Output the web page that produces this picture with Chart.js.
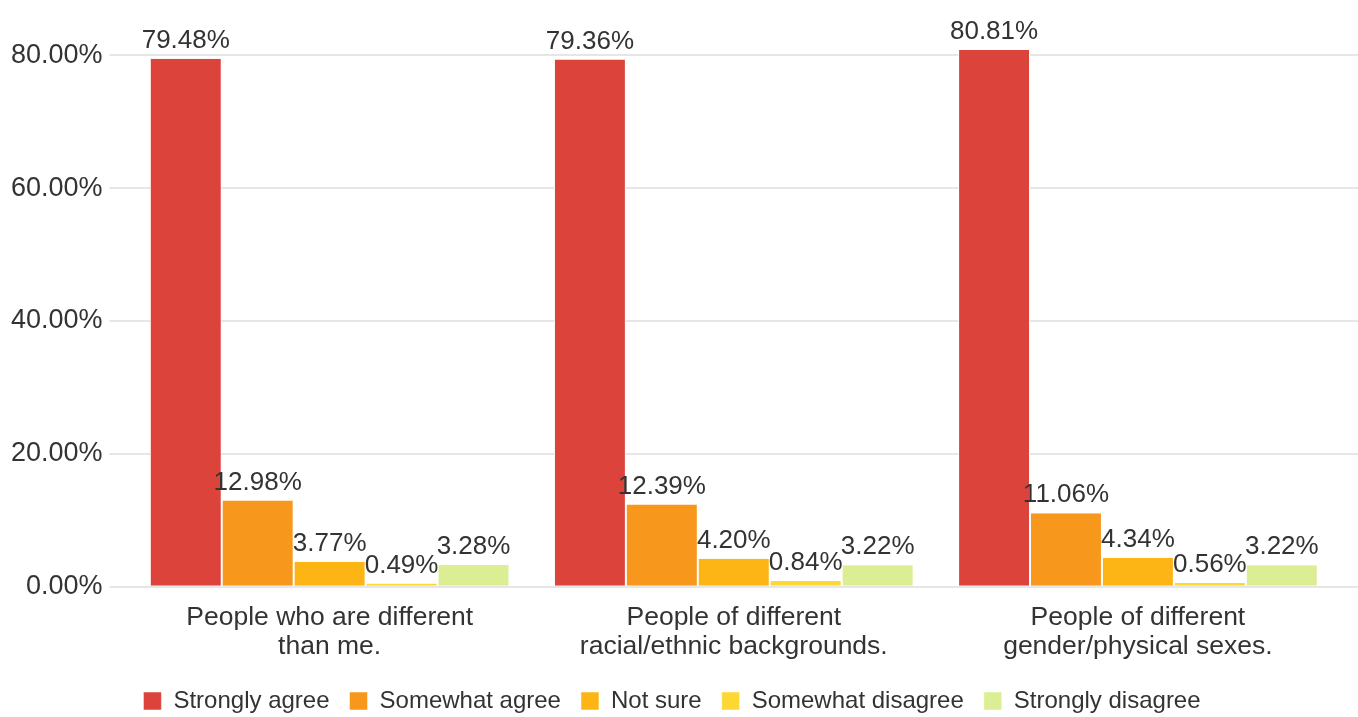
<!DOCTYPE html>
<html>
<head>
<meta charset="utf-8">
<script src="https://cdn.jsdelivr.net/npm/chart.js@4/dist/chart.umd.min.js"></script>
<style>
  html, body { margin: 0; padding: 0; background: #fff; }
  #wrap { width: 1358px; height: 717px; }
</style>
</head>
<body>
<div id="wrap"><canvas id="chart" width="1358" height="717"></canvas></div>
<script>
const categories = [
    ['People who are different', 'than me.'],
    ['People of different', 'racial/ethnic backgrounds.'],
    ['People of different', 'gender/physical sexes.'],
];
const seriesNames = ['Strongly agree', 'Somewhat agree', 'Not sure', 'Somewhat disagree', 'Strongly disagree'];
const stronglyAgree = [79.48, 79.36, 80.81];
const somewhatAgree = [12.98, 12.39, 11.06];
const notSure = [3.77, 4.20, 4.34];
const somewhatDisagree = [0.49, 0.84, 0.56];
const stronglyDisagree = [3.28, 3.22, 3.22];
const yTicks = [0, 20, 40, 60, 80];

const colors = ['#dc443b', '#f7981d', '#fdb515', '#fdd835', '#dcee94'];
const seriesValues = [stronglyAgree, somewhatAgree, notSure, somewhatDisagree, stronglyDisagree];

const FONT = '"Liberation Sans", Arial, sans-serif';

// value labels drawn above each bar
const barLabels = {
    id: 'barLabels',
    afterDatasetsDraw(chart) {
        const ctx = chart.ctx;
        ctx.save();
        ctx.font = '26px ' + FONT;
        ctx.fillStyle = '#333';
        ctx.textAlign = 'center';
        ctx.textBaseline = 'bottom';
        chart.data.datasets.forEach((ds, i) => {
            chart.getDatasetMeta(i).data.forEach((bar, j) => {
                ctx.fillText(ds.data[j].toFixed(2) + '%', bar.x, bar.y - 5);
            });
        });
        ctx.restore();
    }
};

// stretch horizontal grid lines out to the right edge
const gridExtend = {
    id: 'gridExtend',
    beforeDatasetsDraw(chart) {
        const ctx = chart.ctx;
        const y = chart.scales.y;
        ctx.save();
        ctx.strokeStyle = '#e6e6e6';
        ctx.lineWidth = 2;
        y.ticks.forEach((t) => {
            const py = Math.round(y.getPixelForValue(t.value));
            ctx.beginPath();
            ctx.moveTo(chart.chartArea.right, py);
            ctx.lineTo(chart.width, py);
            ctx.stroke();
        });
        ctx.restore();
    }
};

const ctx = document.getElementById('chart').getContext('2d');
new Chart(ctx, {
    type: 'bar',
    data: {
        labels: categories,
        datasets: seriesNames.map((name, i) => ({
            label: name,
            data: seriesValues[i],
            backgroundColor: colors[i],
            borderColor: '#ffffff',
            borderWidth: { left: 1, right: 1, top: 0, bottom: 0 },
            borderSkipped: false,
            categoryPercentage: 0.89,
            barPercentage: 1.0,
        }))
    },
    options: {
        responsive: false,
        animation: false,
        layout: { padding: { top: 42, right: 18, left: 4, bottom: -6 } },
        plugins: {
            legend: {
                position: 'bottom',
                labels: {
                    boxWidth: 18,
                    boxHeight: 18,
                    padding: 20,
                    color: '#333',
                    font: { family: FONT, size: 24 },
                },
            },
            tooltip: { enabled: false },
        },
        scales: {
            x: {
                grid: { display: false },
                border: { display: false },
                ticks: {
                    color: '#333',
                    font: { family: FONT, size: 26.5, lineHeight: 1.1 },
                    padding: 8,
                    maxRotation: 0,
                },
            },
            y: {
                min: 0,
                max: 82,
                afterBuildTicks: (axis) => {
                    axis.ticks = yTicks.map((v) => ({ value: v }));
                },
                border: { display: false },
                grid: {
                    color: '#e6e6e6',
                    lineWidth: 2,
                    tickLength: 18,
                },
                ticks: {
                    color: '#333',
                    font: { family: FONT, size: 27 },
                    padding: 7,
                    callback: (v) => v.toFixed(2) + '%',
                },
            },
        },
    },
    plugins: [barLabels, gridExtend],
});
</script>
</body>
</html>
